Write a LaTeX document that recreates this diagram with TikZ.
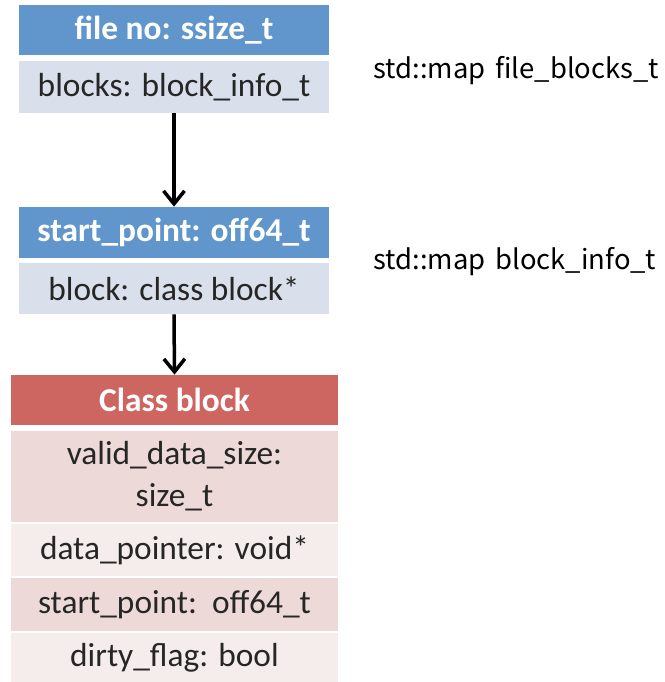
\documentclass[tikz,border=0pt]{standalone}
\usepackage{fontspec}
\setmainfont{Carlito}
\newfontfamily\mapfont[WordSpace=1.6]{Noto Sans CJK JP}
\usetikzlibrary{arrows.meta}
\definecolor{headblue}{HTML}{6096CB}
\definecolor{rowblue}{HTML}{D9DFEB}
\definecolor{headred}{HTML}{CD6661}
\definecolor{rowreddark}{HTML}{EDD9D8}
\definecolor{rowredlight}{HTML}{F5EDEC}
\definecolor{rowtext}{HTML}{262626}
\begin{document}
\begin{tikzpicture}[
    cell/.style={inner sep=0pt, align=center, text=rowtext,
      font=\fontsize{19}{24}\selectfont},
    headcell/.style={cell, text=white, font=\fontsize{19}{24}\selectfont\bfseries},
    maplabel/.style={anchor=west, inner sep=0pt, font=\mapfont\fontsize{15.6}{19}\selectfont},
    link/.style={line width=0.07cm, -{Straight Barb[length=0.26cm,width=0.42cm]}}
  ]
            \useasboundingbox (0,0) rectangle (13.300000,13.640000);
            
            % Drawing map file_blocks_t
            \node [headcell, fill=headblue, minimum width=6.200000cm, minimum height=1.000000cm] (filehead) at (3.480000,13.040000) {file no: ssize\_t};%
            \node [cell, fill=rowblue, minimum width=6.200000cm, minimum height=1.040000cm] (filerow) at (3.480000,11.900000) {blocks: block\_info\_t};%
            \node [maplabel] (filemap) at (7.460000,12.230000) {std::map file\_blocks\_t};%
            
            % Drawing map block_info_t
            \node [headcell, fill=headblue, minimum width=6.200000cm, minimum height=1.020000cm] (infohead) at (3.480000,8.990000) {start\_point: off64\_t};%
            \node [cell, fill=rowblue, minimum width=6.200000cm, minimum height=1.020000cm] (inforow) at (3.480000,7.870000) {block: class block*};%
            \node [maplabel] (infomap) at (7.460000,8.410000) {std::map block\_info\_t};%
            
            % Drawing class block
            \node [headcell, fill=headred, minimum width=6.540000cm, minimum height=1.000000cm] (classhead) at (3.490000,5.640000) {Class block};%
            \node [cell, fill=rowreddark, minimum width=6.540000cm, minimum height=1.820000cm] (sizerow) at (3.490000,4.110000) {valid\_data\_size:\\size\_t};%
            \node [cell, fill=rowredlight, minimum width=6.540000cm, minimum height=1.040000cm] (datarow) at (3.490000,2.640000) {data\_pointer: void*};%
            \node [cell, fill=rowreddark, minimum width=6.540000cm, minimum height=1.060000cm] (startrow) at (3.490000,1.550000) {start\_point:\ \ off64\_t};%
            \node [cell, fill=rowredlight, minimum width=6.540000cm, minimum height=0.980000cm] (dirtyrow) at (3.490000,0.490000) {dirty\_flag: bool};%
            
            % Drawing links
            \draw [link] (filerow.south) -- (infohead.north);%
            \draw [link] (inforow.south) -- (classhead.north);%
        \end{tikzpicture}
\end{document}
